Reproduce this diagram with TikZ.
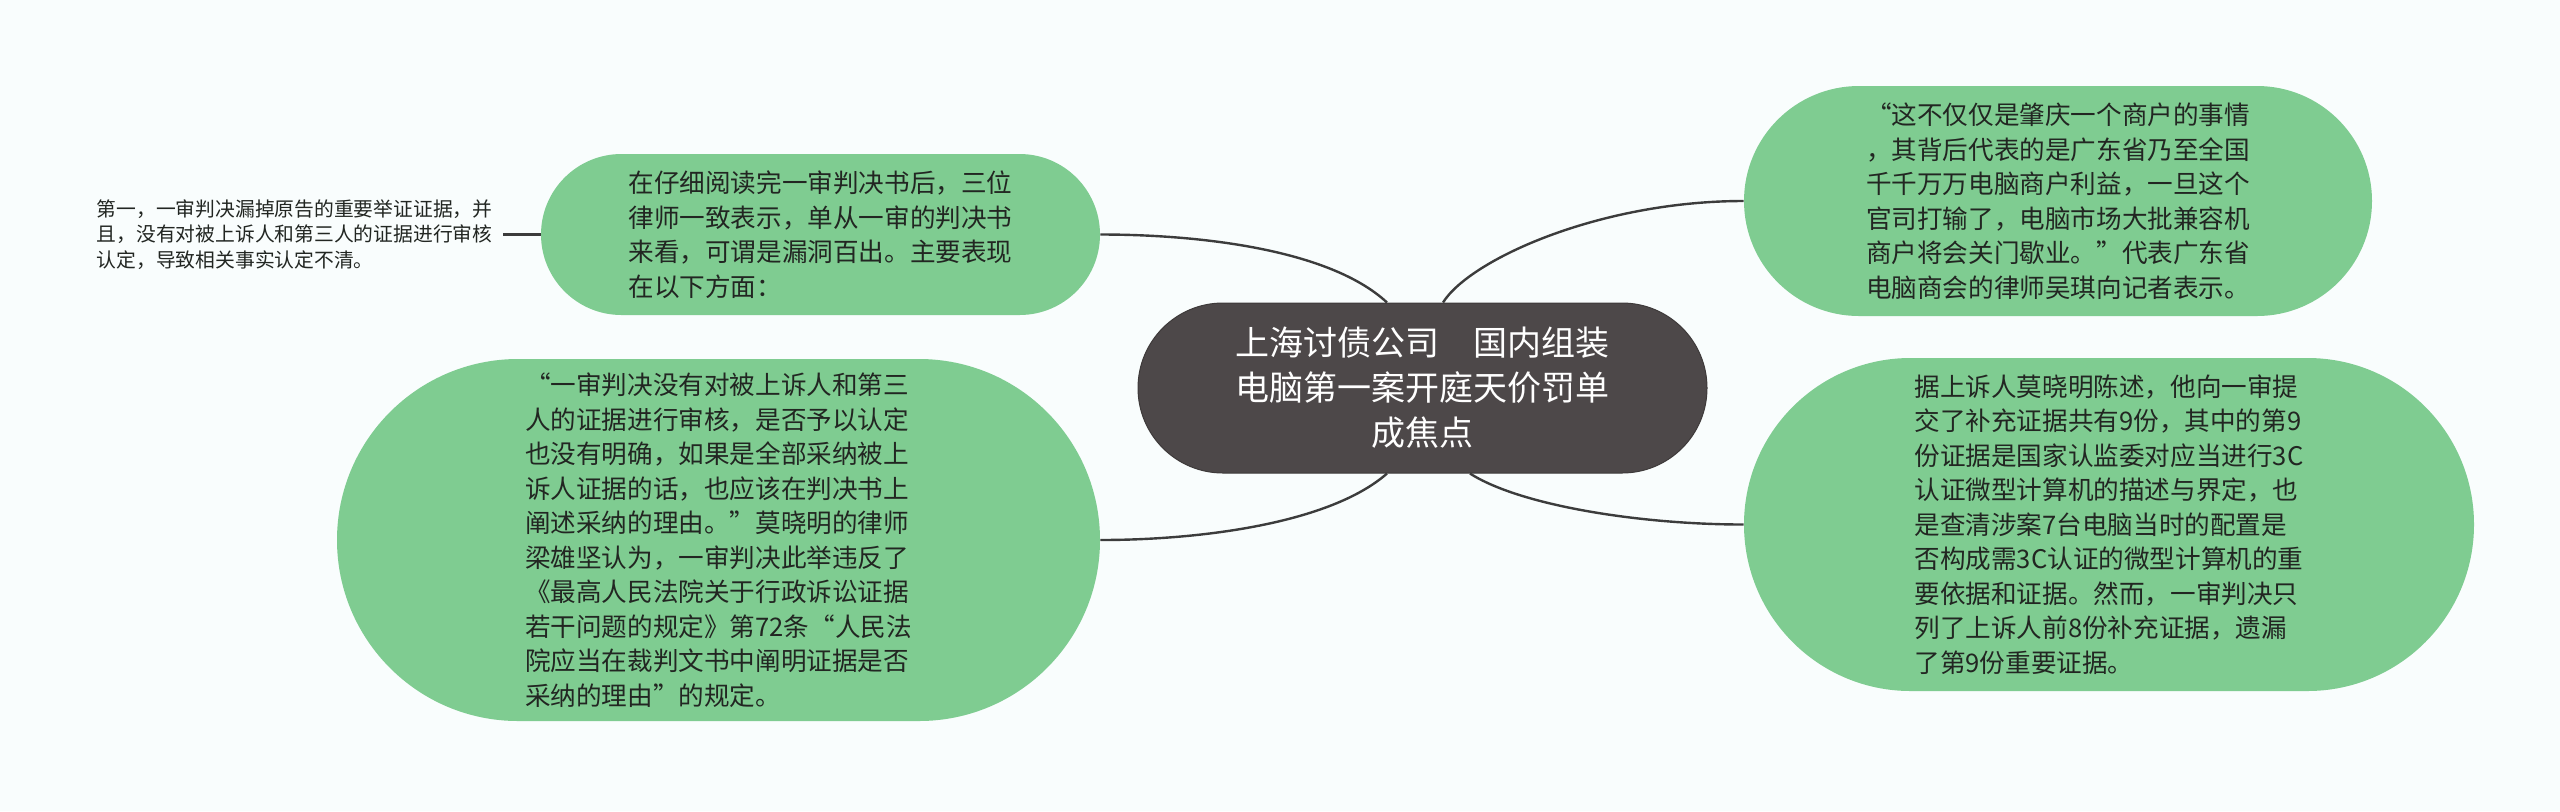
\documentclass[tikz,border=0pt]{standalone}
\usepackage{fontspec}
\setmainfont{Noto Sans CJK SC}
\usetikzlibrary{shapes.misc}
\definecolor{bgcol}{RGB}{249,253,253}
\definecolor{leafcol}{RGB}{127,204,145}
\definecolor{hubcol}{RGB}{77,72,73}
\definecolor{inkcol}{RGB}{34,38,34}
\definecolor{wirecol}{RGB}{60,60,60}
\tikzset{
  leafnode/.style={rounded rectangle, fill=leafcol, inner sep=0pt, text=inkcol, align=left,
    font=\fontsize{12.8pt}{17.25pt}\selectfont},
  hubnode/.style={rounded rectangle, fill=hubcol, draw=hubcol!80!black, line width=0.5pt, text=white,
    align=center, inner sep=0pt, font=\fontsize{17pt}{22.5pt}\selectfont},
  plainnode/.style={inner sep=0pt, text=inkcol, align=left, font=\fontsize{9.9pt}{12.75pt}\selectfont},
  wire/.style={draw=wirecol, line width=1.2pt},
}
\begin{document}
\begin{tikzpicture}[x=0.5pt, y=-0.5pt]
\fill[bgcol] (0,0) rectangle (2560,811);
\useasboundingbox (0,0) rectangle (2560,811);

\node[hubnode, minimum width=284.5pt, minimum height=85pt] (c) at (1422.5,388)
  {上海讨债公司　国内组装\\电脑第一案开庭天价罚单\\成焦点};

\node[leafnode, minimum width=279.5pt, minimum height=80.5pt] (tl) at (820.5,234.5)
  {在仔细阅读完一审判决书后，三位\\律师一致表示，单从一审的判决书\\来看，可谓是漏洞百出。主要表现\\在以下方面：};

\node[leafnode, minimum width=381.5pt, minimum height=181pt] (bl) at (718.5,540)
  {“一审判决没有对被上诉人和第三\\人的证据进行审核，是否予以认定\\也没有明确，如果是全部采纳被上\\诉人证据的话，也应该在判决书上\\阐述采纳的理由。”莫晓明的律师\\梁雄坚认为，一审判决此举违反了\\《最高人民法院关于行政诉讼证据\\若干问题的规定》第72条“人民法\\院应当在裁判文书中阐明证据是否\\采纳的理由”的规定。};

\node[leafnode, minimum width=314pt, minimum height=115pt] (tr) at (2058,201)
  {“这不仅仅是肇庆一个商户的事情\\，其背后代表的是广东省乃至全国\\千千万万电脑商户利益，一旦这个\\官司打输了，电脑市场大批兼容机\\商户将会关门歇业。”代表广东省\\电脑商会的律师吴琪向记者表示。};

\node[leafnode, minimum width=365pt, minimum height=166.5pt] (br) at (2109,524.5)
  {据上诉人莫晓明陈述，他向一审提\\交了补充证据共有9份，其中的第9\\份证据是国家认监委对应当进行3C\\认证微型计算机的描述与界定，也\\是查清涉案7台电脑当时的配置是\\否构成需3C认证的微型计算机的重\\要依据和证据。然而，一审判决只\\列了上诉人前8份补充证据，遗漏\\了第9份重要证据。};

\node[plainnode, anchor=east] (fl) at (493,234.5)
  {第一，一审判决漏掉原告的重要举证证据，并\\且，没有对被上诉人和第三人的证据进行审核\\认定，导致相关事实认定不清。};

\draw[wire, shorten <=5pt] (fl.east) -- (tl.west);
\draw[wire] (tl.east) .. controls +(100,0) and +(-57,-53) .. ([xshift=-17.75pt]c.north);
\draw[wire] (bl.east) .. controls +(100,0) and +(-57,50) .. ([xshift=-17.75pt]c.south);
\draw[wire] ([xshift=10.25pt]c.north) .. controls +(27,-43) and +(-144,0) .. (tr.west);
\draw[wire] ([xshift=23.75pt]c.south) .. controls +(50,32) and +(-104,0) .. (br.west);
\end{tikzpicture}
\end{document}
